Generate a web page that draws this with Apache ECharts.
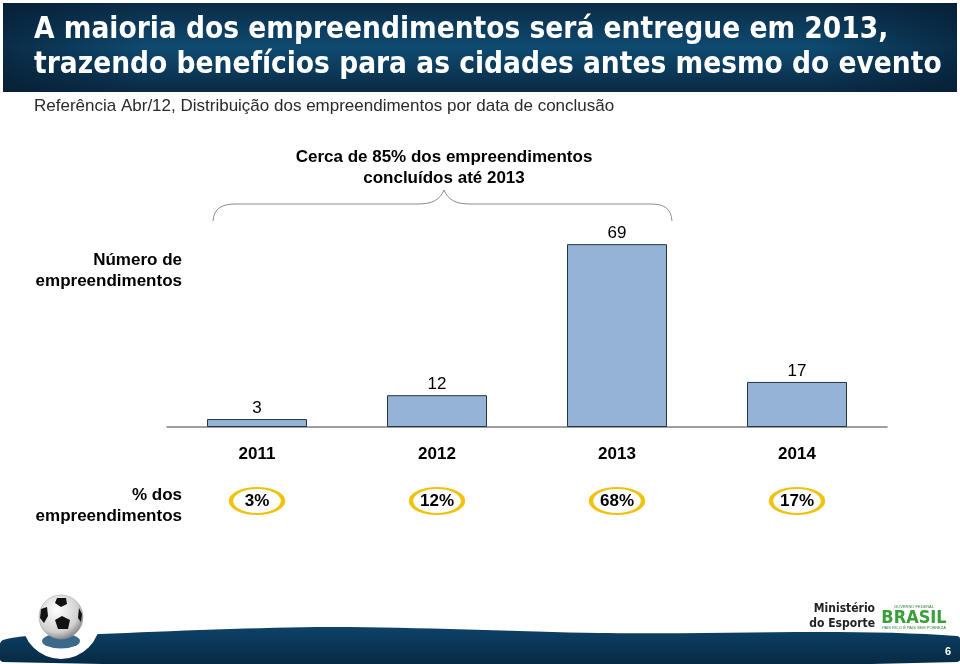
<!DOCTYPE html>
<html><head><meta charset="utf-8">
<script src="https://cdn.jsdelivr.net/npm/echarts@6/dist/echarts.min.js"></script>
<style>html,body{margin:0;padding:0;background:#fff}#c{width:960px;height:664px}</style>
</head><body><div id="c"></div>
<script>
const categories = ['2011', '2012', '2013', '2014'];
const counts = [3, 12, 69, 17];
const percents = ['3%', '12%', '68%', '17%'];

const titleLines = 'A maioria dos empreendimentos será entregue em 2013,\ntrazendo benefícios para as cidades antes mesmo do evento';
const subtitle = 'Referência Abr/12, Distribuição dos empreendimentos por data de conclusão';
const braceText = 'Cerca de 85% dos empreendimentos\nconcluídos até 2013';
const countLabel = 'Número de\nempreendimentos';
const pctLabel = '% dos\nempreendimentos';

const chart = echarts.init(document.getElementById('c'), null, {renderer: 'canvas'});
const F = 'Liberation Sans, Arial, sans-serif';
const braceStyle = {stroke: '#8c8c8c', lineWidth: 1, fill: null};

chart.setOption({
  animation: false,
  backgroundColor: '#ffffff',
  grid: {left: 167, right: 73, top: 215, bottom: 237},
  xAxis: {
    type: 'category', data: categories,
    axisLine: {lineStyle: {color: '#7f7f7f', width: 1.5}},
    axisTick: {show: false},
    axisLabel: {fontFamily: F, fontWeight: 'bold', fontSize: 17, color: '#000', margin: 19}
  },
  yAxis: {type: 'value', min: 0, max: 80, show: false, splitLine: {show: false}},
  graphic: [
    {type: 'rect', z: 0, shape: {x: 3, y: 3, width: 954, height: 89},
      style: {fill: {type: 'linear', x: 0, y: 0, x2: 0, y2: 1, colorStops: [
        {offset: 0, color: '#0a2b47'}, {offset: 0.5, color: '#0f4a70'}, {offset: 1, color: '#0a2a44'}]}}},
    {type: 'rect', z: 1, shape: {x: 3, y: 3, width: 954, height: 89},
      style: {fill: {type: 'linear', x: 0, y: 0, x2: 1, y2: 0, colorStops: [
        {offset: 0, color: 'rgba(5,25,45,0.6)'}, {offset: 0.15, color: 'rgba(5,25,45,0)'},
        {offset: 0.85, color: 'rgba(5,25,45,0)'}, {offset: 1, color: 'rgba(5,25,45,0.6)'}]}}},
    {type: 'text', z: 2, x: 34, y: 13,
      style: {text: titleLines, fill: '#ffffff', font: 'bold 29.5px "DejaVu Sans Condensed", "DejaVu Sans", sans-serif', lineHeight: 35, verticalAlign: 'top'}},
    {type: 'text', z: 2, x: 34, y: 98,
      style: {text: subtitle, fill: '#2a2a2a', font: '17px "Liberation Sans Narrow", "Liberation Sans", sans-serif', verticalAlign: 'top'}},
    {type: 'text', z: 2, x: 444, y: 168,
      style: {text: braceText, fill: '#000', font: 'bold 17px ' + F, align: 'center', verticalAlign: 'middle', lineHeight: 21}},
    {type: 'bezierCurve', z: 2, shape: {x1: 213, y1: 221, cpx1: 214, cpy1: 208, cpx2: 222, cpy2: 204, x2: 236, y2: 204}, style: braceStyle},
    {type: 'line', z: 2, shape: {x1: 236, y1: 204, x2: 418, y2: 204}, style: braceStyle},
    {type: 'bezierCurve', z: 2, shape: {x1: 418, y1: 204, cpx1: 432, cpy1: 204, cpx2: 440, cpy2: 200, x2: 444, y2: 190}, style: braceStyle},
    {type: 'bezierCurve', z: 2, shape: {x1: 444, y1: 190, cpx1: 448, cpy1: 200, cpx2: 456, cpy2: 204, x2: 470, y2: 204}, style: braceStyle},
    {type: 'line', z: 2, shape: {x1: 470, y1: 204, x2: 650, y2: 204}, style: braceStyle},
    {type: 'bezierCurve', z: 2, shape: {x1: 650, y1: 204, cpx1: 664, cpy1: 204, cpx2: 671, cpy2: 208, x2: 672, y2: 221}, style: braceStyle},
    {type: 'text', z: 2, x: 182, y: 271,
      style: {text: countLabel, fill: '#000', font: 'bold 17px ' + F, align: 'right', verticalAlign: 'middle', lineHeight: 21}},
    {type: 'text', z: 2, x: 182, y: 506,
      style: {text: pctLabel, fill: '#000', font: 'bold 17px ' + F, align: 'right', verticalAlign: 'middle', lineHeight: 21}},
    // footer band
    {type: 'polygon', z: 1, shape: {smooth: 0.3, points: [[3,640],[100,634],[330,627],[600,633],[957,636],[957,662],[3,662]]},
      style: {fill: {type: 'linear', x: 0, y: 0, x2: 0, y2: 1, colorStops: [
        {offset: 0, color: '#0d4268'}, {offset: 1, color: '#062840'}]}}},
    {type: 'circle', z: 2, shape: {cx: 61, cy: 620, r: 39}, style: {fill: '#ffffff'}},
    {type: 'circle', z: 3, x: 61, y: 641, scaleX: 1, scaleY: 0.4, shape: {cx: 0, cy: 0, r: 19}, style: {fill: '#1a4f75', opacity: 0.85}},
    {type: 'circle', z: 4, shape: {cx: 61, cy: 617, r: 22},
      style: {fill: {type: 'radial', x: 0.4, y: 0.35, r: 0.7, colorStops: [
        {offset: 0, color: '#ffffff'}, {offset: 0.7, color: '#d0d0d0'}, {offset: 1, color: '#7a7a7a'}]}, stroke: '#999', lineWidth: 0.5}},
    {type: 'polygon', z: 5, shape: {points: [[62,616],[70,620],[68,629],[58,629],[55,620]]}, style: {fill: '#111'}},
    {type: 'polygon', z: 5, shape: {points: [[57,598],[66,598],[67,604],[61,607],[55,603]]}, style: {fill: '#111'}},
    {type: 'polygon', z: 5, shape: {points: [[41,609],[47,607],[48,616],[44,623],[40,618]]}, style: {fill: '#111'}},
    {type: 'polygon', z: 5, shape: {points: [[79,608],[82,614],[81,622],[78,618]]}, style: {fill: '#111'}},
    {type: 'text', z: 5, x: 875, y: 616,
      style: {text: 'Ministério\ndo Esporte', fill: '#222', font: 'bold 12px "DejaVu Sans Condensed", sans-serif', align: 'right', verticalAlign: 'middle', lineHeight: 15}},
    {type: 'text', z: 5, x: 914, y: 607,
      style: {text: 'GOVERNO FEDERAL', fill: '#2e7d32', font: '4px sans-serif', align: 'center', verticalAlign: 'middle'}},
    {type: 'text', z: 5, x: 914, y: 618,
      style: {text: 'BRASIL', fill: '#3a9f3a', font: 'bold 18px "DejaVu Sans Condensed", sans-serif', align: 'center', verticalAlign: 'middle'}},
    {type: 'text', z: 5, x: 914, y: 628,
      style: {text: 'PAÍS RICO É PAÍS SEM POBREZA', fill: '#2e7d32', font: '4px sans-serif', align: 'center', verticalAlign: 'middle'}},
    {type: 'text', z: 5, x: 948, y: 652,
      style: {text: '6', fill: '#ffffff', font: 'bold 11px sans-serif', align: 'center', verticalAlign: 'middle'}}
  ],
  series: [
    {
      type: 'bar', data: counts, barWidth: 100,
      itemStyle: {color: '#95b3d7', borderColor: '#243447', borderWidth: 1},
      label: {show: true, position: 'top', distance: 2, fontFamily: F, fontSize: 17, color: '#000'}
    },
    {
      type: 'custom', data: percents.map((p, i) => [i, 0]),
      renderItem: function (params, api) {
        const p = api.coord([api.value(0), 0]);
        const txt = percents[params.dataIndex];
        return {
          type: 'group', children: [
            {type: 'circle', x: p[0], y: p[1] + 74, scaleX: 26 / 13, scaleY: 1, shape: {cx: 0, cy: 0, r: 13},
              style: {fill: '#ffffff', stroke: '#f0c20a', lineWidth: 2.2, strokeNoScale: true}},
            {type: 'text', style: {x: p[0], y: p[1] + 74, text: txt, align: 'center', verticalAlign: 'middle',
              font: 'bold 17px ' + F, fill: '#000'}}
          ]
        };
      }
    }
  ]
});
</script></body></html>
